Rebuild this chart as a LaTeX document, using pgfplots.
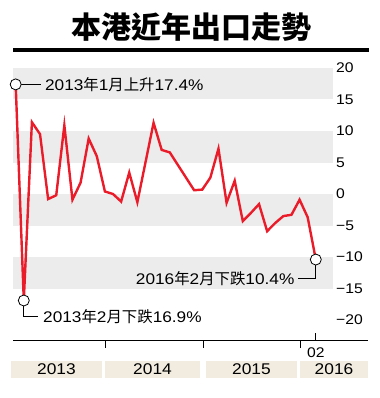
\documentclass[border=0pt]{standalone}
\usepackage{pgfplots}
\pgfplotsset{compat=1.18}
\usepackage{fontspec}
\setmainfont[FakeStretch=1.12]{Liberation Sans}
\newfontfamily\cjk{Noto Sans CJK TC}
\definecolor{band}{HTML}{ECECEC}
\definecolor{beige}{HTML}{F1ECDF}
\definecolor{lred}{HTML}{EB1C2A}
\newcommand{\fs}{\fontsize{14bp}{16bp}\selectfont}
\newcommand{\fa}{\fontsize{15.4bp}{17bp}\selectfont}
\newcommand{\fy}{\fontsize{15.5bp}{17bp}\selectfont}
\begin{document}
\begin{tikzpicture}
\useasboundingbox (0,0) rectangle (380bp,398bp);
\begin{axis}[
 at={(13bp,58bp)}, anchor=south west,
 scale only axis, width=320bp, height=272bp,
 xmin=-0.33, xmax=39.12, ymin=-23.17, ymax=20,
 clip=false,
 axis line style={draw=none},
 xtick=\empty,
 ytick={-20,-15,...,20},
 yticklabels={−20,−15,−10,−5,0,5,10,15,20},
 yticklabel pos=right,
 major tick length=0pt,
 yticklabel style={anchor=west, inner sep=0pt, xshift=3bp, font=\fs},
]
\fill[band] (axis cs:-0.33,15) rectangle (axis cs:39.12,20);
\fill[band] (axis cs:-0.33,5) rectangle (axis cs:39.12,10);
\fill[band] (axis cs:-0.33,-5) rectangle (axis cs:39.12,0);
\fill[band] (axis cs:-0.33,-15) rectangle (axis cs:39.12,-10);
% x axis line and ticks
\draw[line width=0.8bp] (axis cs:-0.33,-23.17) -- (axis cs:43.44,-23.17);
\draw[line width=0.8bp] (axis cs:11.01,-23.17) -- ++(0bp,-8bp);
\draw[line width=0.8bp] (axis cs:23.13,-23.17) -- ++(0bp,-8bp);
\draw[line width=0.8bp] (axis cs:35.06,-23.17) -- ++(0bp,-8bp);
\draw[line width=0.8bp] (axis cs:37,-23.17) -- ++(0bp,7bp);
\node[font=\fs, inner sep=0] at ([yshift=-13bp]axis cs:37,-23.17) {02};
% year boxes
\fill[beige] (axis cs:-0.58,-26.5) rectangle (axis cs:10.64,-29.2);
\fill[beige] (axis cs:11.01,-26.5) rectangle (axis cs:22.72,-29.2);
\fill[beige] (axis cs:23.46,-26.5) rectangle (axis cs:34.68,-29.2);
\fill[beige] (axis cs:35.06,-26.5) rectangle (axis cs:43.44,-29.2);
\node[font=\fy, inner sep=0] at (axis cs:5.03,-27.85) {2013};
\node[font=\fy, inner sep=0] at (axis cs:16.87,-27.85) {2014};
\node[font=\fy, inner sep=0] at (axis cs:29.07,-27.85) {2015};
\node[font=\fy, inner sep=0] at (axis cs:39.25,-27.85) {2016};
% data
\addplot[lred, line width=2.4bp, no markers] coordinates {
(0,17.4) (1,-16.9) (2,11.4) (3,9.5) (4,-0.8) (5,-0.2) (6,10.9) (7,-0.9)
(8,1.8) (9,8.8) (10,6.0) (11,0.4) (12,0.0) (13,-1.2) (14,3.4) (15,-1.3)
(16,5.0) (17,11.3) (18,7.0) (19,6.6) (20,4.6) (21,2.6) (22,0.6) (23,0.7)
(24,2.6) (25,7.2) (26,-1.4) (27,2.1) (28,-4.3) (29,-3.0) (30,-1.6) (31,-5.9)
(32,-4.6) (33,-3.5) (34,-3.3) (35,-0.9) (36,-3.7) (37,-10.4)};
% annotations
\draw[line width=0.8bp] (axis cs:0,17.4) -- ++(25bp,0bp)
  node[anchor=west, inner sep=0, xshift=4bp, font=\fa] {2013{\cjk 年}1{\cjk 月上升}17.4\%};
\draw[line width=0.8bp] (axis cs:1,-16.9) -- ++(0bp,-16bp) -- ++(14bp,0bp)
  node[anchor=west, inner sep=0, xshift=5bp, font=\fa] {2013{\cjk 年}2{\cjk 月下跌}16.9\%};
\draw[line width=0.8bp] (axis cs:37,-10.4) -- ++(0bp,-19bp) -- ++(-18bp,0bp)
  node[anchor=east, inner sep=0, xshift=-3bp, font=\fa] {2016{\cjk 年}2{\cjk 月下跌}10.4\%};
\addplot[only marks, mark=*, mark size=5.5bp, mark options={fill=white, draw=black, line width=0.8bp}]
  coordinates {(0,17.4) (1,-16.9) (37,-10.4)};
\end{axis}
\node[font=\cjk\bfseries\fontsize{30bp}{32bp}\selectfont, inner sep=0] at (191bp,371bp) {本港近年出口走勢};
\draw[line width=3.3bp] (13bp,348bp) -- (369bp,348bp);
\end{tikzpicture}
\end{document}
